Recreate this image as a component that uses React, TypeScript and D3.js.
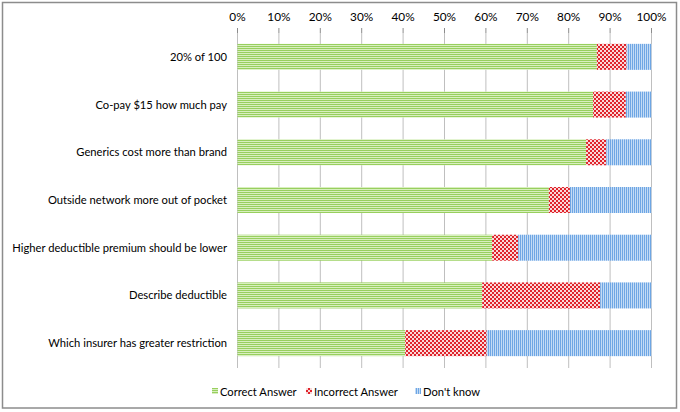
import React from "react";
import * as d3 from "d3";

const categories = [
  "20% of 100",
  "Co-pay $15 how much pay",
  "Generics cost more than brand",
  "Outside network more out of pocket",
  "Higher deductible premium should be lower",
  "Describe deductible",
  "Which insurer has greater restriction",
];
const correct = [86.8, 85.9, 84.2, 75.2, 61.5, 59.1, 40.5];
const incorrect = [7.2, 7.9, 4.9, 5.1, 6.3, 28.5, 19.7];
const dontKnow = [6.0, 6.2, 10.9, 19.7, 32.2, 12.4, 39.8];
const seriesNames = ["Correct Answer", "Incorrect Answer", "Don't know"];
const tickValues = [0, 10, 20, 30, 40, 50, 60, 70, 80, 90, 100];

const W = 680;
const H = 412;
const FONT = "Lato, sans-serif";

export default function App() {
  const x = d3.scaleLinear().domain([0, 100]).range([237.5, 651.5]);
  const y = d3.scaleBand<string>().domain(categories).range([33, 367]).paddingInner(0.455).paddingOuter(0.2275);
  const rows = categories.map((c, i) => {
    const vals = [correct[i], incorrect[i], dontKnow[i]];
    let acc = 0;
    return vals.map((v, k) => {
      const s = acc;
      acc += v;
      return { cat: c, k, x0: s, x1: Math.min(acc, 100) };
    });
  });
  const fills = ["url(#pGreen)", "url(#pRed)", "url(#pBlue)"];
  const legendX = [212, 306, 415];

  return (
    <svg width={W} height={H} style={{ position: "absolute", left: 0, top: 0 }} fontFamily={FONT}>
      <defs>
        <pattern id="pGreen" width="4" height="2" patternUnits="userSpaceOnUse">
          <rect width="4" height="2" fill="#d8efbf" />
          <rect width="4" height="1" fill="#98cf5e" />
        </pattern>
        <pattern id="pRed" width="4" height="4" patternUnits="userSpaceOnUse">
          <rect width="4" height="4" fill="#f9d9d9" />
          <rect x="0" y="0" width="2" height="2" fill="#e0242c" />
          <rect x="2" y="2" width="2" height="2" fill="#e0242c" />
        </pattern>
        <pattern id="pBlue" width="2" height="4" patternUnits="userSpaceOnUse">
          <rect width="2" height="4" fill="#c3dbf5" />
          <rect width="1" height="4" fill="#6ea6e4" />
        </pattern>
      </defs>
      <rect x={0} y={0} width={W} height={H} fill="#fff" />
      <rect x={2.5} y={2.5} width={674} height={405.5} fill="none" stroke="#8c8c8c" strokeWidth={1.5} />
      {tickValues.map((t) => (
        <g key={t}>
          <line x1={x(t)} x2={x(t)} y1={33} y2={368} stroke="#bfbfbf" strokeWidth={1} />
          <line x1={x(t)} x2={x(t)} y1={28} y2={33} stroke="#8c8c8c" strokeWidth={1} />
          <text x={x(t)} y={21} textAnchor="middle" fontSize={11.8} fill="#000">
            {t}%
          </text>
        </g>
      ))}
      {rows.map((segs) =>
        segs.map((s) => (
          <rect
            key={s.cat + s.k}
            x={x(s.x0)}
            y={y(s.cat)}
            width={x(s.x1) - x(s.x0)}
            height={y.bandwidth()}
            fill={fills[s.k]}
          />
        ))
      )}
      {categories.map((c) => (
        <text key={c} x={227} y={(y(c) as number) + y.bandwidth() / 2 + 4} textAnchor="end" fontSize={11.2} fill="#000">
          {c}
        </text>
      ))}
      {seriesNames.map((n, i) => (
        <g key={n}>
          <rect x={legendX[i]} y={388} width={6} height={6} fill={fills[i]} />
          <text x={legendX[i] + 8} y={396} fontSize={11.2} fill="#000">
            {n}
          </text>
        </g>
      ))}
    </svg>
  );
}
